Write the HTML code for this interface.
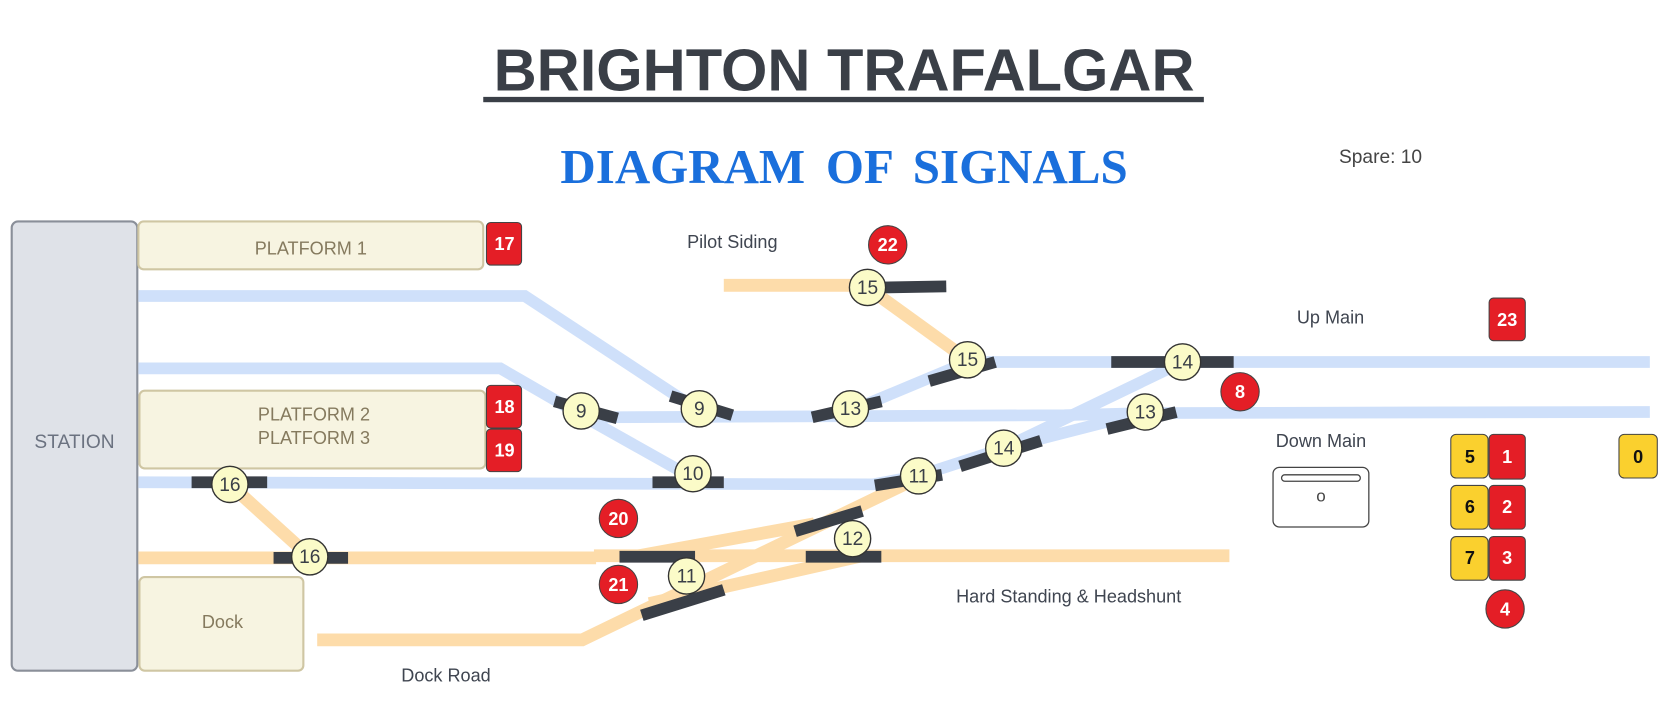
<!DOCTYPE html>
<html><head><meta charset="utf-8"><style>
html,body{margin:0;padding:0;background:#fff;width:1669px;height:725px;overflow:hidden}
svg{display:block}
text{font-family:"Liberation Sans",sans-serif}
</style></head><body>
<svg width="1669" height="725" viewBox="0 0 1568 681" preserveAspectRatio="none" xmlns="http://www.w3.org/2000/svg">
<text x="793" y="85" text-anchor="middle" font-size="56" font-weight="bold" fill="#3a3f47">BRIGHTON TRAFALGAR</text>
<rect x="454" y="91" width="677" height="5" fill="#3a3f47"/>
<text x="793" y="172" text-anchor="middle" font-size="46" font-weight="bold" fill="#1a6fdc" style="font-family:'Liberation Serif',serif" word-spacing="8">DIAGRAM OF SIGNALS</text>
<text x="1297" y="153" text-anchor="middle" font-size="18" fill="#444">Spare: 10</text>

<rect x="11" y="208" width="118" height="422" rx="6" fill="#dfe2e8" stroke="#8a8f99" stroke-width="2"/>
<text x="70" y="421" text-anchor="middle" font-size="18" fill="#6b7280">STATION</text>
<g fill="#f7f4e1" stroke="#cfc6a3" stroke-width="2">
<rect x="130" y="208" width="324" height="45" rx="5"/>
<rect x="131" y="367" width="325" height="73" rx="5"/>
<rect x="131" y="542" width="154" height="88" rx="5"/>
</g>
<g font-size="17" fill="#857a5e" text-anchor="middle">
<text x="292" y="239">PLATFORM 1</text>
<text x="295" y="395">PLATFORM 2</text>
<text x="295" y="417">PLATFORM 3</text>
<text x="209" y="590">Dock</text>
</g>

<g fill="none" stroke="#cfe0fa" stroke-width="11">
<polyline points="130,278 493,278 645,378"/>
<polyline points="130,346 470,346 546,390 651,449"/>
<polyline points="560,392 1000,390 1075,388 1550,387"/>
<line x1="910" y1="340" x2="1550" y2="340"/>
<line x1="799" y1="386" x2="909" y2="340"/>
<polyline points="130,453 820,455 863,447 943,421 1111,340"/>
<line x1="943" y1="421" x2="1076" y2="387"/>
</g>
<g fill="none" stroke="#fddcaa" stroke-width="12">
<line x1="680" y1="268" x2="815" y2="268"/>
<line x1="815" y1="270" x2="909" y2="338"/>
<line x1="216" y1="455" x2="291" y2="523"/>
<line x1="130" y1="524" x2="560" y2="524"/>
<line x1="558" y1="522" x2="1155" y2="522"/>
<polyline points="298,601 547,601 864,448"/>
<line x1="600" y1="522" x2="765" y2="492"/>
<line x1="610" y1="567" x2="810" y2="522"/>
</g>
<g stroke="#3a3f47" stroke-width="11" fill="none">
<line x1="830" y1="270" x2="889" y2="269"/>
<line x1="873" y1="358" x2="935" y2="340"/>
<line x1="521" y1="377" x2="580" y2="393"/>
<line x1="630" y1="372" x2="688" y2="390"/>
<line x1="763" y1="392" x2="828" y2="377"/>
<line x1="613" y1="453" x2="680" y2="453"/>
<line x1="822" y1="456" x2="885" y2="446"/>
<line x1="902" y1="438" x2="978" y2="414"/>
<line x1="1040" y1="403" x2="1105" y2="387"/>
<line x1="1044" y1="340" x2="1159" y2="340"/>
<line x1="180" y1="453" x2="251" y2="453"/>
<line x1="257" y1="524" x2="327" y2="524"/>
<line x1="582" y1="523" x2="653" y2="523"/>
<line x1="757" y1="523" x2="828" y2="523"/>
<line x1="747" y1="499" x2="810" y2="480"/>
<line x1="603" y1="578" x2="680" y2="554"/>
</g>
<g fill="#fbfbc8" stroke="#333" stroke-width="1.3">
<circle cx="815" cy="270" r="17"/><circle cx="909" cy="338" r="17"/>
<circle cx="546" cy="386" r="17"/><circle cx="657" cy="384" r="17"/>
<circle cx="799" cy="384" r="17"/><circle cx="651" cy="445" r="17"/>
<circle cx="863" cy="447" r="17"/><circle cx="943" cy="421" r="17"/>
<circle cx="1111" cy="340" r="17"/><circle cx="1076" cy="387" r="17"/>
<circle cx="801" cy="506" r="17"/><circle cx="645" cy="541" r="17"/>
<circle cx="216" cy="455" r="17"/><circle cx="291" cy="523" r="17"/>
</g>
<g font-size="18" fill="#3a3f47" text-anchor="middle">
<text x="815" y="276">15</text><text x="909" y="344">15</text>
<text x="546" y="392">9</text><text x="657" y="390">9</text>
<text x="799" y="390">13</text><text x="651" y="451">10</text>
<text x="863" y="453">11</text><text x="943" y="427">14</text>
<text x="1111" y="346">14</text><text x="1076" y="393">13</text>
<text x="801" y="512">12</text><text x="645" y="547">11</text>
<text x="216" y="461">16</text><text x="291" y="529">16</text>
</g>

<rect x="1363" y="408" width="35" height="41" rx="5" fill="#fad02e" stroke="#444" stroke-width="1"/>
<rect x="1363" y="456" width="35" height="41" rx="5" fill="#fad02e" stroke="#444" stroke-width="1"/>
<rect x="1363" y="504" width="35" height="41" rx="5" fill="#fad02e" stroke="#444" stroke-width="1"/>
<rect x="1521" y="408" width="36" height="41" rx="5" fill="#fad02e" stroke="#444" stroke-width="1"/>

<g fill="#e41e26" stroke="#444" stroke-width="1">
<rect x="457" y="209" width="33" height="40" rx="4"/>
<rect x="457" y="362" width="33" height="40" rx="4"/>
<rect x="457" y="403" width="33" height="40" rx="4"/>
<rect x="1399" y="280" width="34" height="40" rx="4"/>
<rect x="1399" y="408" width="34" height="42" rx="4"/>
<rect x="1399" y="456" width="34" height="41" rx="4"/>
<rect x="1399" y="504" width="34" height="41" rx="4"/>
<circle cx="834" cy="230" r="18"/><circle cx="1165" cy="368" r="18"/>
<circle cx="581" cy="487" r="18"/><circle cx="581" cy="549" r="18"/>
<circle cx="1414" cy="572" r="18"/>
</g>
<g font-size="17" font-weight="bold" fill="#fff" text-anchor="middle">
<text x="474" y="235">17</text><text x="474" y="388">18</text><text x="474" y="429">19</text>
<text x="1416" y="306">23</text><text x="1416" y="435">1</text><text x="1416" y="482">2</text><text x="1416" y="530">3</text>
<text x="834" y="236">22</text><text x="1165" y="374">8</text><text x="581" y="493">20</text><text x="581" y="555">21</text><text x="1414" y="578">4</text>
</g>
<g font-size="17" font-weight="bold" fill="#111" text-anchor="middle">
<text x="1381" y="435">5</text><text x="1381" y="482">6</text><text x="1381" y="530">7</text><text x="1539" y="435">0</text>
</g>

<rect x="1196" y="439" width="90" height="56" rx="6" fill="#fff" stroke="#444" stroke-width="1.2"/>
<rect x="1204" y="446" width="74" height="6" rx="3" fill="#fff" stroke="#444" stroke-width="1.2"/>
<text x="1241" y="471" text-anchor="middle" font-size="16" fill="#444">o</text>

<g font-size="17" fill="#3f4550" text-anchor="middle">
<text x="688" y="233">Pilot Siding</text>
<text x="1250" y="304">Up Main</text>
<text x="1241" y="420">Down Main</text>
<text x="1004" y="566">Hard Standing &amp; Headshunt</text>
<text x="419" y="640">Dock Road</text>
</g>
</svg>
</body></html>
